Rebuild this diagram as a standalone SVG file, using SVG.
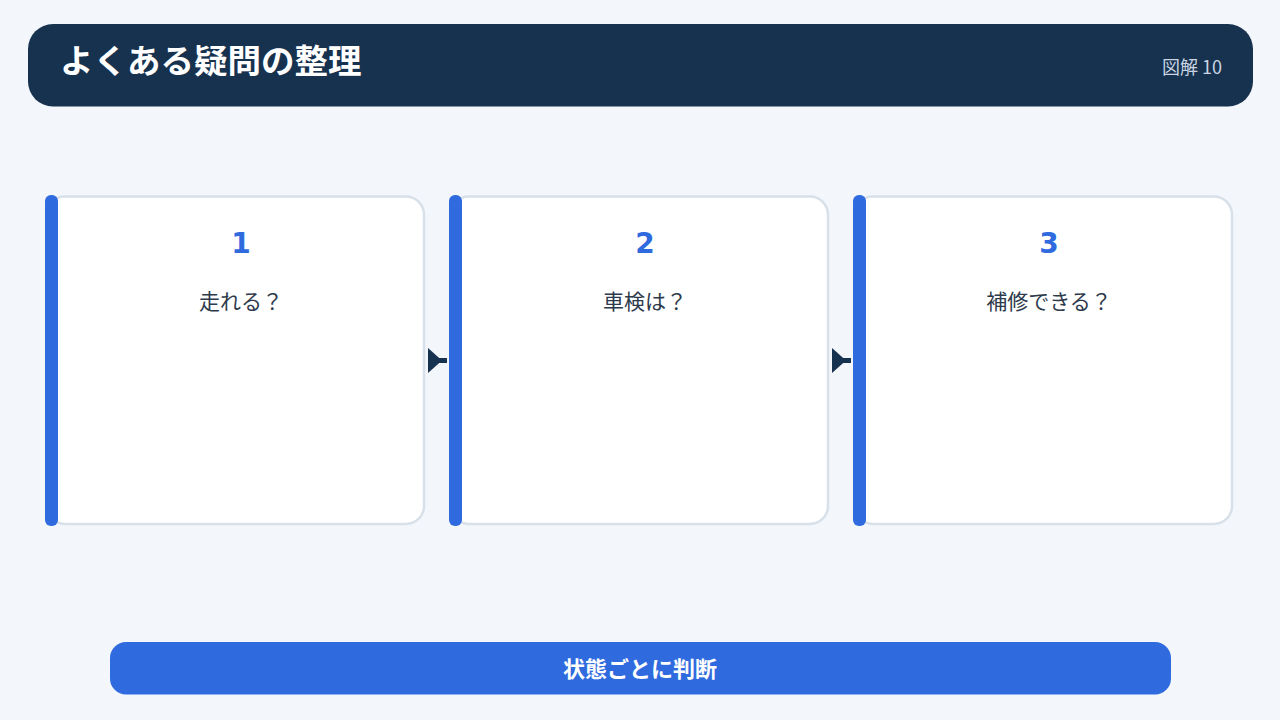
<svg xmlns="http://www.w3.org/2000/svg" width="1280" height="720" viewBox="0 0 1280 720">
<style>
.card{fill:#ffffff;stroke:#d8e0ea;stroke-width:2.5}
.bar{fill:#2f6bde}
.num{font-family:"DejaVu Sans","Noto Sans",sans-serif;font-weight:700;font-size:28px;fill:#2f6bde;text-anchor:middle}
.lbl{font-family:"Noto Sans CJK JP","Noto Sans",sans-serif;font-size:21px;fill:#2d3a4b;text-anchor:middle}
.conn{stroke:#17324f;stroke-width:5;fill:none}
</style>
<rect width="1280" height="720" fill="#f3f6fa"/>
<g id="header">
<rect x="28" y="24" width="1225" height="82.5" rx="25" fill="#17324f"/>
<text x="60" y="73" font-family="Noto Sans CJK JP,Noto Sans,sans-serif" font-weight="700" font-size="33.5" fill="#ffffff">よくある疑問の整理</text>
<text x="1222" y="74" font-family="Noto Sans CJK JP,Noto Sans,sans-serif" font-size="18" fill="#c9d5e3" text-anchor="end">図解 10</text>
</g>
<g id="node1">
<rect class="card" x="46.5" y="196.5" width="377.5" height="327.5" rx="18"/>
<rect class="bar" x="45" y="195" width="13" height="331" rx="6"/>
<text class="num" x="241" y="253">1</text>
<text class="lbl" x="241" y="309">走れる？</text>
</g>
<g id="node2">
<rect class="card" x="450.5" y="196.5" width="377.5" height="327.5" rx="18"/>
<rect class="bar" x="449" y="195" width="13" height="331" rx="6"/>
<text class="num" x="645" y="253">2</text>
<text class="lbl" x="645" y="309">車検は？</text>
</g>
<g id="node3">
<rect class="card" x="854.5" y="196.5" width="377.5" height="327.5" rx="18"/>
<rect class="bar" x="853" y="195" width="13" height="331" rx="6"/>
<text class="num" x="1049" y="253">3</text>
<text class="lbl" x="1049" y="309">補修できる？</text>
</g>
<g id="connectors">
<line class="conn" x1="428" y1="360.5" x2="447" y2="360.5"/>
<path d="M428,348 L442,360.5 L428,373 Z" fill="#17324f"/>
<line class="conn" x1="832" y1="360.5" x2="851" y2="360.5"/>
<path d="M832,348 L846,360.5 L832,373 Z" fill="#17324f"/>
</g>
<g id="footer">
<rect x="110" y="642" width="1061" height="52.5" rx="16" fill="#2f6bde"/>
<text x="640" y="677" font-family="Noto Sans CJK JP,Noto Sans,sans-serif" font-weight="700" font-size="22" fill="#ffffff" text-anchor="middle">状態ごとに判断</text>
</g>
</svg>
